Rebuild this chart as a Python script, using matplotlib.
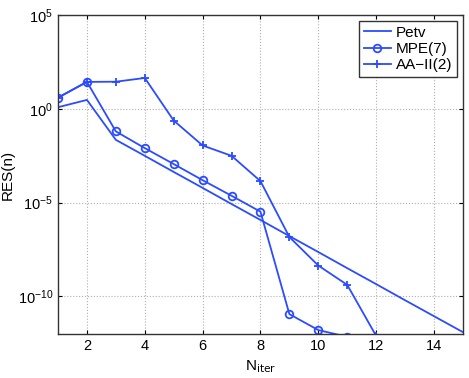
import numpy as np
import matplotlib
matplotlib.use("Agg")
import matplotlib.pyplot as plt

plt.rcParams['font.family'] = ['Liberation Sans', 'DejaVu Sans']

# iterations
n_petv = np.arange(1, 16)
n_mpe = np.arange(1, 13)
n_aa = np.arange(1, 13)

# log10 of the residuals
log_petv = [0.09, 0.48, -1.65, -2.50, -3.36, -4.21, -5.07, -5.92,
            -6.78, -7.63, -8.49, -9.34, -10.20, -11.05, -11.90]
log_mpe = [0.60, 1.44, -1.20, -2.09, -2.94, -3.80, -4.63, -5.48,
           -10.94, -11.79, -12.15, -12.5]
log_aa = [0.60, 1.44, 1.45, 1.65, -0.62, -1.95, -2.50, -3.85,
          -6.83, -8.35, -9.38, -12.10]

blue = '#2b4cff'

fig = plt.figure(figsize=(4.69, 3.78), dpi=100)
ax = fig.add_axes([0.1237, 0.1164, 0.8633, 0.8436])

ax.semilogy(n_petv, 10.0 ** np.array(log_petv), '-', color=blue, lw=1.3, label='Petv')
ax.semilogy(n_mpe, 10.0 ** np.array(log_mpe), '-o', color=blue, lw=1.3, ms=5.5,
            mfc='none', mew=1.3, label='MPE(7)')
ax.semilogy(n_aa, 10.0 ** np.array(log_aa), '-+', color=blue, lw=1.3, ms=6,
            mew=1.3, label='AA\u2212II(2)')

ax.set_xlim(1, 15)
ax.set_ylim(1e-12, 1e5)
ax.set_xticks([2, 4, 6, 8, 10, 12, 14])
ax.set_yticks([1e5, 1e0, 1e-5, 1e-10])
ax.yaxis.set_minor_locator(matplotlib.ticker.NullLocator())
ax.grid(True, which='major', linestyle=':', color='#b0b0b0', lw=0.8)
ax.tick_params(direction='in', labelsize=10.5, top=True, right=True, length=3)
for s in ax.spines.values():
    s.set_color('#333333')
    s.set_linewidth(1.0)

ax.set_ylabel('RES(n)', fontsize=11)
ax.yaxis.set_label_coords(-0.108, 0.5)
ax.set_xlabel(r'N$_{\rm iter}$', fontsize=11)

leg = ax.legend(loc='upper right', fontsize=11, fancybox=False, framealpha=1,
                edgecolor='#333333', handlelength=1.8, handletextpad=0.3,
                borderpad=0.3, labelspacing=0.15, borderaxespad=0.4)
leg.get_frame().set_linewidth(1.0)

fig.savefig('out.png', dpi=100)
